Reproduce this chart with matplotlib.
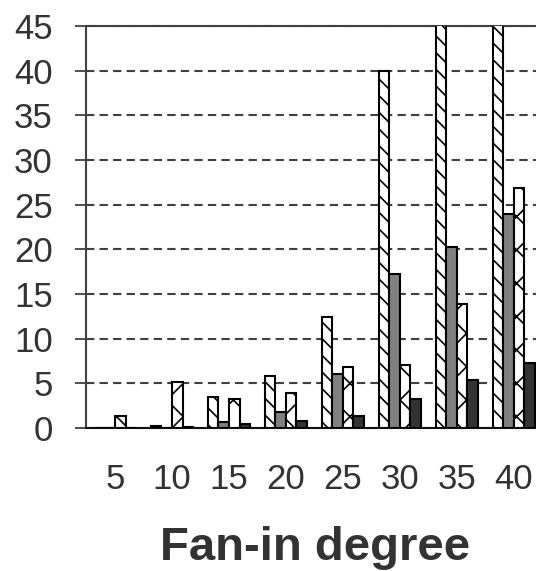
import matplotlib.pyplot as plt
import numpy as np

plt.rcParams['font.family'] = ['Liberation Sans', 'DejaVu Sans']
plt.rcParams['hatch.linewidth'] = 1.2

# fan-in degree groups
fan_in = ['5', '10', '15', '20', '25', '30', '35', '40']

# four series per group
s1 = [0.0, 0.2, 3.5, 5.8, 12.4, 40.0, 60.0, 80.0]
s2 = [0.0, 0.05, 0.7, 1.8, 6.0, 17.2, 20.3, 23.9]
s3 = [1.3, 5.2, 3.2, 3.9, 6.8, 7.1, 13.9, 26.9]
s4 = [0.0, 0.1, 0.4, 0.8, 1.3, 3.2, 5.4, 7.3]

fig = plt.figure(figsize=(5.36, 5.71), dpi=100)
ax = fig.add_axes([86 / 536, 1 - 428 / 571, (536 - 86) / 536, (428 - 26) / 571])

x = np.arange(len(fan_in))
w = 0.185
styles = [
    dict(color='white', hatch='\\\\'),
    dict(color='#808080', hatch=None),
    dict(color='white', hatch='x'),
    dict(color='#333333', hatch=None),
]
for k, (vals, st) in enumerate(zip([s1, s2, s3, s4], styles)):
    ax.bar(x - 1.5 * w + k * w, vals, w, color=st['color'], hatch=st['hatch'],
           edgecolor='black', linewidth=1.5, zorder=3)

ax.set_ylim(0, 45)
ax.set_xlim(-0.51, 7.39)
ax.set_yticks(range(0, 46, 5))
ax.set_xticks(x)
ax.set_xticklabels(fan_in)

ax.yaxis.grid(True, linestyle=(0, (4, 2.5)), color='#404040', linewidth=1.5, zorder=0)
ax.tick_params(axis='y', length=8, width=1.3, color='#404040', labelsize=25,
               labelcolor='#333333', pad=16)
ax.tick_params(axis='x', length=0, labelsize=25, labelcolor='#333333', pad=25)

ax.spines['right'].set_visible(False)
ax.spines['top'].set_color('#404040')
ax.spines['left'].set_color('#404040')
ax.spines['bottom'].set_color('#111111')
for sp in ax.spines.values():
    sp.set_linewidth(1.5)

fig.text(315.5 / 536, 1 - 560 / 571, 'Fan-in degree', fontsize=34, fontweight='bold',
         color='#333333', ha='center', va='baseline')

fig.savefig('out.png', dpi=100)
